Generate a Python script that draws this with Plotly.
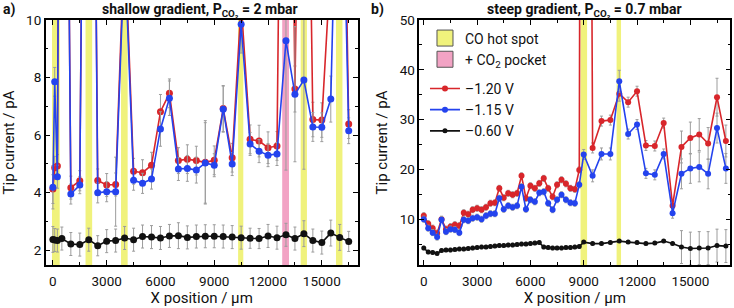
import plotly.graph_objects as go

# ---------------- Panel a: shallow gradient ----------------
x_a = [0, 100, 250, 500, 1000, 1500, 2000, 2500, 3000, 3500, 4000, 4500, 5000, 5500,
       6000, 6500, 7000, 7500, 8000, 8500, 9000, 9500, 10000, 10500, 11000, 11500,
       12000, 12500, 13000, 13500, 14000, 14500, 15000, 15500, 16000, 16500]
red_a = [4.12, 4.86, 4.92, 40, 4.17, 4.41, 40, 4.42, 4.26, 4.28, 13, 4.74, 4.69, 4.95,
         6.81, 7.45, 5.11, 5.16, 5.11, 5.05, 5.12, 6.92, 5.21, 10.6, 5.85, 5.79,
         5.56, 5.62, 35, 7.6, 28, 6.54, 6.52, 12, 25, 6.38]
red_a_err = [0.5, 0.4, 0.4, 1, 0.4, 0.35, 1, 0.4, 0.4, 0.4, 1, 0.45, 0.45, 0.45,
             0.6, 0.5, 0.45, 0.5, 0.5, 1.45, 0.5, 0.8, 0.5, 1, 0.5, 0.55,
             0.55, 0.5, 1, 0.8, 1, 0.6, 0.6, 1, 1, 0.5]
blue_a = [4.18, 7.85, 4.55, 40, 3.95, 4.26, 40, 3.99, 4.03, 4.03, 12.5, 4.43, 4.32, 4.47,
          6.21, 7.28, 4.82, 4.84, 4.78, 5.03, 4.95, 6.9, 4.99, 9.85, 5.69, 5.44,
          5.3, 5.34, 9.28, 7.42, 7.91, 6.28, 6.27, 7.25, 20, 6.15]
blue_a_err = [0.75, 0.5, 0.4, 1, 0.35, 0.3, 1, 0.35, 0.35, 1.2, 1, 0.35, 0.35, 0.35,
              0.6, 0.6, 0.4, 0.45, 0.45, 1.4, 0.4, 0.8, 0.4, 1, 0.4, 0.4,
              0.4, 0.4, 4.5, 2.35, 3.1, 0.5, 0.5, 0.8, 1, 0.45]
black_a = [2.37, 2.35, 2.33, 2.40, 2.21, 2.19, 2.36, 2.15, 2.31, 2.33, 2.42, 2.36, 2.47, 2.45,
           2.42, 2.49, 2.50, 2.44, 2.47, 2.48, 2.48, 2.47, 2.45, 2.43, 2.41, 2.40,
           2.49, 2.43, 2.53, 2.40, 2.57, 2.33, 2.26, 2.59, 2.44, 2.30]
black_a_err = [0.45, 0.4, 0.4, 0.4, 0.4, 0.4, 0.4, 0.35, 0.4, 0.4, 0.4, 0.4, 0.4, 0.4,
               0.4, 0.4, 0.45, 0.4, 0.4, 0.4, 0.4, 0.4, 0.4, 0.4, 0.35, 0.35,
               0.4, 0.4, 0.4, 0.4, 0.45, 0.4, 0.4, 0.45, 0.45, 0.35]
hot_a = [[-50, 380], [1820, 2190], [3800, 4170], [10330, 10620], [13820, 14170], [15790, 16150]]
pocket_a = [[12790, 13170]]

# ---------------- Panel b: steep gradient ----------------
x_b = [0, 250, 500, 750, 1000, 1250, 1500, 1750, 2000, 2250, 2500, 2750, 3000, 3250,
       3500, 3750, 4000, 4250, 4500, 4750, 5000, 5250, 5500, 5750, 6000, 6250, 6500,
       6750, 7000, 7250, 7500, 7750, 8000, 8250, 8500, 8750,
       9000, 9500, 10000, 10500, 11000, 11500, 12000, 12500, 13000, 13500, 14000,
       14500, 15000, 15500, 16000, 16500, 17000]
red_b = [10.7, 9.1, 8.2, 7.2, 10.0, 8.0, 8.5, 8.9, 8.7, 11.3, 11.0, 11.9, 12.2, 11.9,
         12.4, 13.2, 13.3, 16.2, 14.3, 15.2, 14.9, 15.2, 18.7, 14.2, 16.7, 16.2, 17.2,
         18.2, 16.2, 14.5, 16.9, 17.9, 17.1, 16.2, 16.0, 19.9,
         400, 24.3, 29.7, 29.9, 35.2, 33.5, 35.7, 24.8, 24.7, 29.3, 12.7,
         24.5, 26.3, 27.0, 25.2, 34.5, 25.7]
red_b_err = [0.6] * 36 + [1, 1, 1, 1, 1.5, 1, 1, 1, 1, 1, 1, 3.2, 3.2, 3.2, 3.2, 3.8, 3.2]
blue_b = [10.0, 8.2, 7.3, 6.4, 9.9, 7.5, 8.0, 7.9, 7.3, 9.9, 9.7, 10.2, 10.4, 10.0,
          10.7, 11.1, 11.1, 14.2, 12.0, 12.7, 12.4, 12.7, 16.5, 12.0, 13.9, 13.5, 15.3,
          15.5, 13.2, 11.9, 13.9, 14.9, 13.9, 13.3, 13.2, 16.9,
          23.0, 18.7, 23.1, 23.1, 37.7, 27.1, 29.0, 19.2, 18.9, 23.1, 11.2,
          19.1, 20.2, 20.5, 19.1, 28.3, 20.2]
blue_b_err = [0.6] * 36 + [1, 1.2, 1.2, 1.2, 2.2, 1, 1, 1, 1, 1, 1, 3, 3, 3, 3, 3, 3]
black_b = [4.2, 3.4, 3.3, 3.1, 3.7, 3.8, 3.8, 3.9, 4.0, 4.0, 4.1, 4.2, 4.3, 4.4,
           4.4, 4.5, 4.6, 4.7, 4.7, 4.8, 4.8, 4.9, 5.0, 5.0, 5.1, 5.2, 5.3,
           4.4, 4.3, 4.2, 4.2, 4.2, 4.3, 4.3, 4.4, 4.5,
           5.4, 5.1, 5.1, 5.3, 5.6, 5.4, 5.3, 5.1, 5.2, 5.6, 5.1,
           4.4, 4.1, 4.2, 4.2, 4.7, 4.6]
black_b_err = [0.35] * 36 + [0.3] * 11 + [3.3] * 6
hot_b = [[8820, 9190], [10850, 11100]]

names = ["\u20131.20 V", "\u20131.15 V", "\u20130.60 V"]
RED, BLUE, BLACK = "#d8262b", "#2443ee", "#111111"
YELLOW, PINK = "#f0f27c", "#f2a3c4"
ERR = "#9c9c9c"
FONT = "Roboto"

fig = go.Figure()

# legend swatches for the shaded bands
fig.add_trace(go.Scatter(x=[None], y=[None], mode="markers", name="CO hot spot",
                         marker=dict(symbol="square", size=16, color=YELLOW,
                                     line=dict(color="#555555", width=1)),
                         xaxis="x2", yaxis="y2", legendgroup="bands"))
fig.add_trace(go.Scatter(x=[None], y=[None], mode="markers", name="+ CO<sub>2</sub> pocket",
                         marker=dict(symbol="square", size=16, color=PINK,
                                     line=dict(color="#555555", width=1)),
                         xaxis="x2", yaxis="y2", legendgroup="bands"))


def series(x, y, err, color, name, xa, ya, size, legend):
    fig.add_trace(go.Scatter(
        x=x, y=y, mode="lines+markers", name=name, xaxis=xa, yaxis=ya,
        line=dict(color=color, width=1.6),
        marker=dict(color=color, size=size),
        error_y=dict(type="data", array=err, visible=True, color=ERR, thickness=1, width=1.5),
        showlegend=legend, legendgroup="lines"))


series(x_a, red_a, red_a_err, RED, names[0], "x", "y", 7, False)
series(x_a, blue_a, blue_a_err, BLUE, names[1], "x", "y", 7, False)
series(x_a, black_a, black_a_err, BLACK, names[2], "x", "y", 7, False)
series(x_b, red_b, red_b_err, RED, names[0], "x2", "y2", 6, True)
series(x_b, blue_b, blue_b_err, BLUE, names[1], "x2", "y2", 6, True)
series(x_b, black_b, black_b_err, BLACK, names[2], "x2", "y2", 5, True)

shapes = []
for x0, x1 in hot_a:
    shapes.append(dict(type="rect", xref="x", yref="y domain", x0=x0, x1=x1, y0=0, y1=1,
                       fillcolor=YELLOW, line=dict(width=0), layer="below"))
for x0, x1 in pocket_a:
    shapes.append(dict(type="rect", xref="x", yref="y domain", x0=x0, x1=x1, y0=0, y1=1,
                       fillcolor=PINK, line=dict(width=0), layer="below"))
for x0, x1 in hot_b:
    shapes.append(dict(type="rect", xref="x2", yref="y2 domain", x0=x0, x1=x1, y0=0, y1=1,
                       fillcolor=YELLOW, line=dict(width=0), layer="below"))

axis_common = dict(showline=True, linecolor="black", linewidth=1.5, mirror="ticks",
                   ticks="inside", ticklen=5, tickwidth=1.3, tickcolor="black",
                   showgrid=False, zeroline=False, tickformat="d", automargin=False,
                   tickfont=dict(family=FONT, size=13.5, color="#111"))
xt = dict(text="X position / \u00b5m", font=dict(family=FONT, size=15, color="#111"), standoff=0)
yt = dict(text="Tip current / pA", font=dict(family=FONT, size=15, color="#111"), standoff=8)

fig.update_layout(
    width=734, height=308, margin=dict(l=0, r=0, t=20, b=43),
    paper_bgcolor="white", plot_bgcolor="white",
    font=dict(family=FONT, color="#111"),
    shapes=shapes,
    xaxis=dict(domain=[0.0623, 0.4873], range=[-400, 17000], tick0=0, dtick=3000,
               minor=dict(ticks="inside", ticklen=3, dtick=1500, tick0=0, tickcolor="black"),
               anchor="y", title=xt, ticklabelstandoff=3, **axis_common),
    yaxis=dict(domain=[0, 1], range=[1.48, 10], tick0=0, dtick=2,
               minor=dict(ticks="inside", ticklen=3, dtick=1, tick0=0, tickcolor="black"),
               anchor="x", title=yt, **axis_common),
    xaxis2=dict(domain=[0.5713, 0.995], range=[-250, 17250], tick0=0, dtick=3000,
                minor=dict(ticks="inside", ticklen=3, dtick=1500, tick0=0, tickcolor="black"),
                anchor="y2", title=xt, ticklabelstandoff=3, **axis_common),
    yaxis2=dict(domain=[0, 1], range=[0.8, 50], tick0=0, dtick=10,
                minor=dict(ticks="inside", ticklen=3, dtick=5, tick0=0, tickcolor="black"),
                anchor="x2", title=yt, **axis_common),
    legend=dict(x=0.579, y=0.99, xanchor="left", yanchor="top", bgcolor="rgba(0,0,0,0)",
                font=dict(family=FONT, size=14, color="#111"), traceorder="grouped",
                tracegroupgap=8, itemsizing="trace"),
    annotations=[
        dict(text="<b>a)</b>", x=0.002, y=1.041, xref="paper", yref="paper", showarrow=False,
             xanchor="left", yanchor="middle", font=dict(family=FONT, size=14)),
        dict(text="<b>shallow gradient, P<sub>CO\u2082</sub> = 2 mbar</b>", x=0.2718, y=1.041,
             xref="paper", yref="paper", showarrow=False, xanchor="center", yanchor="middle",
             font=dict(family=FONT, size=14)),
        dict(text="<b>b)</b>", x=0.503, y=1.041, xref="paper", yref="paper", showarrow=False,
             xanchor="left", yanchor="middle", font=dict(family=FONT, size=14)),
        dict(text="<b>steep gradient, P<sub>CO\u2082</sub> = 0.7 mbar</b>", x=0.7963, y=1.041,
             xref="paper", yref="paper", showarrow=False, xanchor="center", yanchor="middle",
             font=dict(family=FONT, size=14)),
    ],
)

fig.write_html("out.html", config={"displayModeBar": False},
               post_script="document.body.style.margin='0px';")
